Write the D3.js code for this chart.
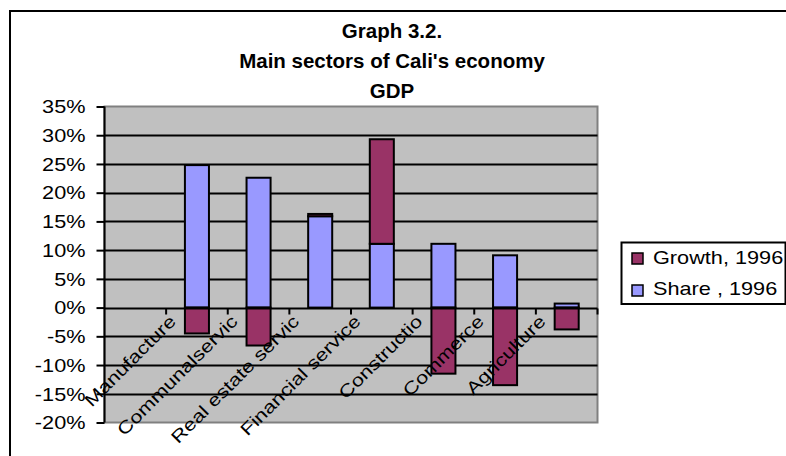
<!DOCTYPE html>
<html><head><meta charset="utf-8">
<script src="https://cdn.jsdelivr.net/npm/d3@7"></script>
<style>
html,body{margin:0;padding:0;background:#fff;}
svg{display:block;font-family:"Liberation Sans",Arial,sans-serif;}
</style></head>
<body>
<svg id="chart" width="786" height="456"></svg>
<script>
// ---- data ----
// category labels as they are visible (truncated) in the reference
const categories = ["", "Manufacture", "Communalservic", "Real estate servic", "Financial service", "Constructio", "Commerce", "Agriculture"];
const shareValues  = [null, 0.248, 0.226, 0.159, 0.111, 0.111, 0.091, 0.007];
const growthValues = [null, -0.045, -0.066, 0.004, 0.182, -0.115, -0.135, -0.038];
const seriesNames = ["Share , 1996", "Growth, 1996"];
const yTicks = [-0.20, -0.15, -0.10, -0.05, 0, 0.05, 0.10, 0.15, 0.20, 0.25, 0.30, 0.35];
const titleLines = ["Graph 3.2.", "Main sectors of Cali's economy", "GDP"];

// ---- layout ----
const W = 786, H = 456;
const plot = {left: 104.5, right: 597.5, top: 106.5, bottom: 422.5};
const FS = 17.5;  // regular text size
const SX = 1.24;  // horizontal stretch of regular text
const colors = {"Share , 1996": "#9999FF", "Growth, 1996": "#993366"};

const svg = d3.select("#chart");

// chart frame
svg.append("rect").attr("x", 10).attr("y", 11).attr("width", W + 20).attr("height", H + 20)
  .attr("fill", "#fff").attr("stroke", "#000").attr("stroke-width", 2);

const x = d3.scaleBand().domain(d3.range(categories.length))
  .range([plot.left, plot.right]).paddingInner(0.61).paddingOuter(0.305);
const y = d3.scaleLinear().domain([-0.20, 0.35]).range([plot.bottom, plot.top]);

// plot background
svg.append("rect").attr("x", plot.left).attr("y", plot.top)
  .attr("width", plot.right - plot.left).attr("height", plot.bottom - plot.top)
  .attr("fill", "#C0C0C0").attr("stroke", "#808080").attr("stroke-width", 2);

// gridlines
svg.append("g").selectAll("line").data(yTicks.filter(t => t > -0.2 && t < 0.35 && t !== 0))
  .join("line")
  .attr("x1", plot.left).attr("x2", plot.right)
  .attr("y1", d => Math.round(y(d)) + 0.5).attr("y2", d => Math.round(y(d)) + 0.5)
  .attr("stroke", "#000").attr("stroke-width", 2);

// stacked bars
const table = categories.map((c, i) => ({i, share: shareValues[i], growth: growthValues[i]}));
const stack = d3.stack().keys(["share", "growth"])
  .value((d, k) => d[k] == null ? 0 : d[k])
  .offset(d3.stackOffsetDiverging);
const layers = stack(table);
const keyName = {share: "Share , 1996", growth: "Growth, 1996"};
layers.forEach(layer => {
  svg.append("g").selectAll("rect").data(layer.filter(d => d.data[layer.key] != null && d[0] !== d[1]))
    .join("rect")
    .attr("x", d => x(d.data.i))
    .attr("width", x.bandwidth())
    .attr("y", d => y(Math.max(d[0], d[1])))
    .attr("height", d => Math.abs(y(d[0]) - y(d[1])))
    .attr("fill", colors[keyName[layer.key]])
    .attr("stroke", "#000").attr("stroke-width", 2);
});

// y axis
const pct = d3.format(".0%");
const yAxis = d3.axisLeft(y).tickValues(yTicks).tickSize(8).tickPadding(11)
  .tickFormat(d => pct(d).replace("\u2212", "-"));
const gy = svg.append("g").attr("transform", `translate(${plot.left},0)`).call(yAxis);
gy.select(".domain").attr("stroke", "#000").attr("stroke-width", 2).attr("d", `M0,${plot.top}V${plot.bottom}`);
gy.selectAll(".tick line").attr("stroke", "#000").attr("stroke-width", 2);
gy.selectAll(".tick text")
  .attr("font-size", FS).attr("fill", "#000")
  .attr("font-family", "Liberation Sans, Arial, sans-serif")
  .attr("x", 0).attr("dy", "0.36em")
  .attr("transform", `translate(-19,0) scale(${SX},1)`);

// x axis line at 0 with boundary ticks
const step = x.step();
const bounds = d3.range(categories.length + 1).map(i => i < categories.length ? x(i) - x.paddingOuter() * step : plot.right);
const y0 = Math.round(y(0)) + 0.5;
svg.append("line").attr("x1", plot.left).attr("x2", plot.right).attr("y1", y0).attr("y2", y0)
  .attr("stroke", "#000").attr("stroke-width", 2);
svg.append("g").selectAll("line").data(bounds.slice(1)).join("line")
  .attr("x1", d => d).attr("x2", d => d).attr("y1", y0).attr("y2", y0 + 6)
  .attr("stroke", "#000").attr("stroke-width", 2);

// category labels, rotated
svg.append("g").selectAll("text").data(categories.map((c, i) => ({c, i})).filter(d => d.c))
  .join("text")
  .attr("transform", d => `translate(${x(d.i) + x.bandwidth() / 2 - 20},${y0 + 14}) rotate(-45) scale(${SX},1)`)
  .attr("text-anchor", "end")
  .attr("font-size", FS).attr("fill", "#000")
  .text(d => d.c);

// title
svg.append("g").selectAll("text").data(titleLines).join("text")
  .attr("x", 392).attr("y", (d, i) => 38 + i * 30)
  .attr("text-anchor", "middle").attr("font-weight", "bold").attr("font-size", 20.5)
  .attr("fill", "#000").text(d => d);

// legend
const lg = svg.append("g");
lg.append("rect").attr("x", 621.5).attr("y", 242.5).attr("width", 164).attr("height", 61.5)
  .attr("fill", "#fff").attr("stroke", "#000").attr("stroke-width", 2);
const legendItems = [seriesNames[1], seriesNames[0]];
legendItems.forEach((name, k) => {
  lg.append("rect").attr("x", 632).attr("y", 253 + k * 32).attr("width", 11).attr("height", 11)
    .attr("fill", colors[name]).attr("stroke", "#000").attr("stroke-width", 1.5);
  lg.append("text").attr("transform", `translate(653,${264 + k * 31}) scale(${SX},1)`)
    .attr("font-size", FS).attr("fill", "#000").text(name);
});
</script>
</body></html>
